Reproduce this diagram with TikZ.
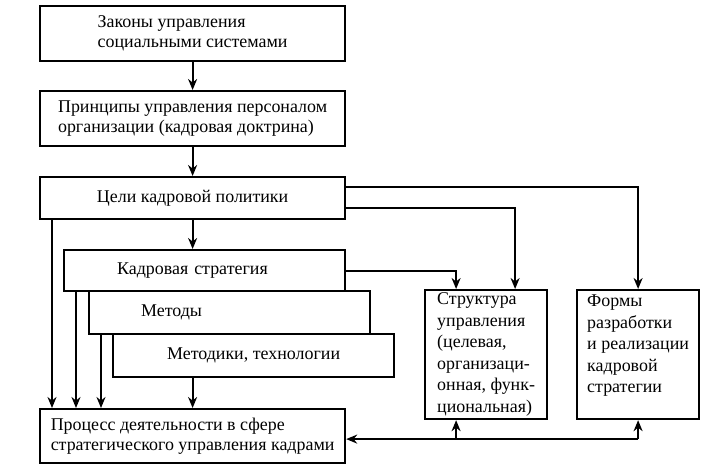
\documentclass[tikz,border=0pt]{standalone}
\usepackage{fontspec}
\setmainfont{Liberation Serif}
\usetikzlibrary{arrows.meta,calc}
\tikzset{>={Stealth[length=11bp,width=9bp]}}
\tikzset{
  blk/.style={draw, line width=2.2bp, anchor=north west, align=left, inner sep=2bp},
  link/.style={->, line width=1.9bp},
}

\begin{document}
\begin{tikzpicture}[x=1bp,y=-1bp,font=\fontsize{18}{20}\selectfont]
  \useasboundingbox (0,0) rectangle (709,470);
  %% main column
  \node[blk, minimum width=305bp, minimum height=55bp] (laws) at (39,5)
    {Законы управления\\социальными системами};
  \node[blk, minimum width=305bp, minimum height=55bp] (princ) at (39,90)
    {Принципы управления персоналом\\организации (кадровая доктрина)};
  \node[blk, minimum width=305bp, minimum height=42bp] (goals) at (39,176)
    {Цели кадровой политики};

  %% steps
  \node[blk, minimum width=281bp, minimum height=41bp, text width=175bp, inner xsep=53bp] (strat) at (63,249)
    {Кадровая стратегия};
  \node[blk, minimum width=281bp, minimum height=43bp, text width=177bp, inner xsep=52bp] (meth) at (88,290)
    {Методы};
  \node[blk, minimum width=281bp, minimum height=43bp] (tech) at (112,333)
    {Методики, технологии};

  \node[blk, minimum width=305bp, minimum height=54bp] (proc) at (39,408)
    {Процесс деятельности в сфере\\стратегического управления кадрами};

  %% right side
  \node[blk, minimum width=122bp, minimum height=129bp, font=\fontsize{18}{21.6}\selectfont] (struct) at (424,289)
    {Структура\\управления\\(целевая,\\организаци-\\онная, функ-\\циональная)};
  \node[blk, minimum width=122bp, minimum height=129bp, font=\fontsize{18}{21.6}\selectfont] (forms) at (576,289)
    {Формы\\разработки\\и реализации\\кадровой\\стратегии\\\mbox{}};

  %% arrows
  \draw[link] (laws.south) -- (princ.north);
  \draw[link] (princ.south) -- (goals.north);
  \draw[link] (goals.south) -- (goals.south |- strat.north);
  \draw[link] ([yshift=11bp]goals.east) -| (forms.north);
  \draw[link] ([yshift=-10bp]goals.east) -| ([xshift=29bp]struct.north);
  \draw[link] (strat.east) -| ([xshift=-30bp]struct.north);

  \draw[link] ($(goals.south west)+(13,0)$) -- ($(goals.south west |- proc.north)+(13,0)$);
  \draw[link] ($(strat.south west)+(13,0)$) -- ($(strat.south west |- proc.north)+(13,0)$);
  \draw[link] ($(meth.south west)+(13,0)$) -- ($(meth.south west |- proc.north)+(13,0)$);
  \draw[link] (proc.north |- tech.south) -- (proc.north);

  \coordinate (back) at ($(forms.south |- proc.east)+(0,3)$);
  \draw[link] (back) -- (forms.south);
  \draw[link] (back) -- (back -| proc.east);
  \draw[link] ($(struct.south |- back)+(-30,0)$) -- ($(struct.south)+(-30,0)$);
\end{tikzpicture}
\end{document}
